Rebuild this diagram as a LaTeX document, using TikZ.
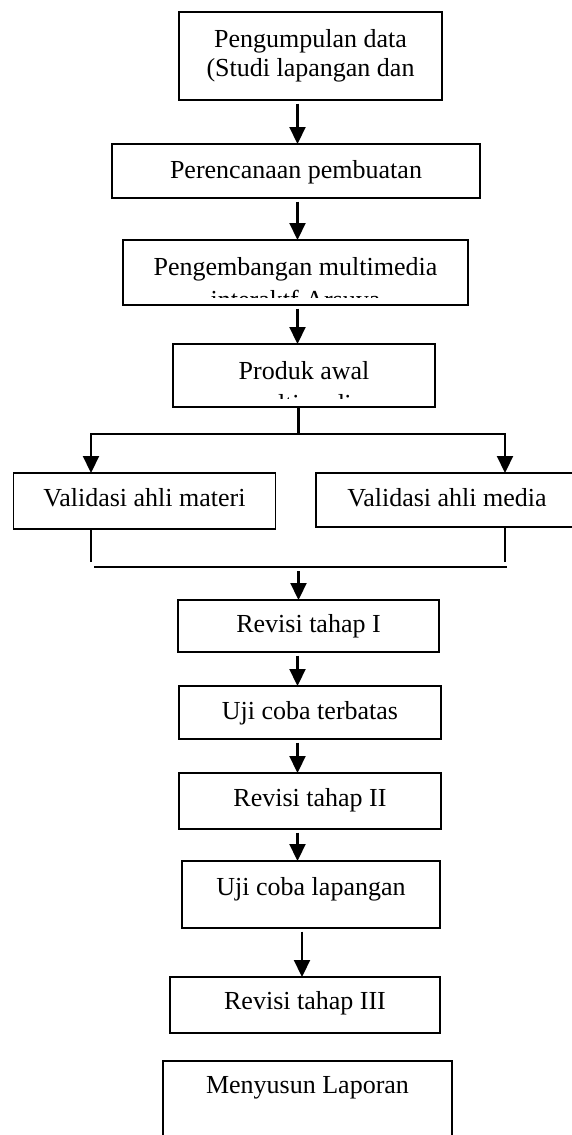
\documentclass[tikz,border=0pt]{standalone}
\usepackage{fontspec}
\setmainfont{Liberation Serif}
\usetikzlibrary{arrows.meta, calc, positioning}
\tikzset{
  >={Triangle[length=8.5pt, width=8pt]},
  every picture/.style={line join=miter, font=\fontsize{13}{15.6}\selectfont},
  stage/.style={draw, line width=0.75pt, inner xsep=0pt, inner ysep=0pt, outer sep=0pt, anchor=north west},
  link/.style={line width=1.1pt},
  drop/.style={link, ->},
  flow/.style={link, ->, shorten <=1.75pt},
}

\begin{document}
\begin{tikzpicture}[x=0.5pt, y=-0.5pt]
  \useasboundingbox (0,0) rectangle (572,1135);
  % ---------- top part: one column of stages
  \node[stage, minimum width=131.5pt, text height=17.5pt, text depth=26.5pt] (pd) at (179,12) {Pengumpulan data};
  \node[anchor=base] (pd2) at (pd.center |- 0,76) {(Studi lapangan dan};
  \node[stage, minimum width=184pt, text height=17pt, text depth=10pt] (rp) at (112,144) {Perencanaan pembuatan};
  \node[stage, minimum width=172.5pt, text height=17.5pt, text depth=15pt] (pm) at (123,240) {Pengembangan multimedia};
  \node[stage, minimum width=131pt, text height=17.5pt, text depth=14pt] (pa) at (173,344) {Produk awal};
  % second lines cut off by the text box
  \begin{scope}
    \clip (pm.north west) rectangle ($(pm.south east)+(0,-8)$);
    \node[anchor=base] (pm2) at (pm.center |- 0,308) {interaktf Arsuya};
  \end{scope}
  \begin{scope}
    \clip (pa.north west) rectangle ($(pa.south east)+(0,-8.5)$);
    \node[anchor=base] (pa2) at (pa.center |- 0,412) {multimedia};
  \end{scope}
  % ---------- validation, side by side
  \node[stage, minimum width=131pt, text height=16.5pt, text depth=11.5pt] (vm) at (13.5,473) {Validasi ahli materi};
  \node[stage, minimum width=131pt, text height=16.5pt, text depth=10.5pt] (vd) at (316,473) {Validasi ahli media};
  % ---------- bottom part
  \node[stage, minimum width=130.5pt, text height=16pt, text depth=10pt] (r1) at (178,600) {Revisi tahap I};
  \node[stage, minimum width=131pt, text height=16.5pt, text depth=10pt] (u1) at (179,686) {Uji coba terbatas};
  \node[stage, minimum width=131pt, text height=16.5pt, text depth=11.5pt] (r2) at (179,773) {Revisi tahap II};
  \node[stage, minimum width=129pt, text height=17pt, text depth=16.5pt] (u2) at (182,861) {Uji coba lapangan};
  \node[stage, minimum width=135pt, text height=16pt, text depth=12pt] (r3) at (170,977) {Revisi tahap III};
  \node[stage, minimum width=144.5pt, text height=16pt, text depth=26pt] (lap) at (163,1061) {Menyusun Laporan};
  % ---------- connectors
  \coordinate (spine) at (297.5,0);
  \coordinate (spineb) at (302,0);
  \coordinate (colL) at (91,0);
  \coordinate (colR) at (505,0);
  \coordinate (split) at (298.5,434);
  \coordinate (barL) at (94,567);
  \coordinate (barR) at (507,567);
  \coordinate (merge) at (298.5,571);
  \draw[flow] (pd.south -| spine) -- (rp.north -| spine);
  \draw[flow] (rp.south -| spine) -- (pm.north -| spine);
  \draw[flow] (pm.south -| spine) -- (pa.north -| spine);
  \draw[link] (pa.south -| split) -- (split);
  \draw[drop] (split) -| (vm.north -| colL);
  \draw[drop] (split) -| (vd.north -| colR);
  \draw[link] (vm.south -| colL) -- (colL |- 0,562);
  \draw[link] (vd.south -| colR) -- (colR |- 0,562);
  \draw[link] (barL) -- (barR);
  \draw[drop] (merge) -- (r1.north -| merge);
  \draw[flow] (r1.south -| spine) -- (u1.north -| spine);
  \draw[flow] (u1.south -| spine) -- (r2.north -| spine);
  \draw[flow] (r2.south -| spine) -- (u2.north -| spine);
  \draw[flow] (u2.south -| spineb) -- (r3.north -| spineb);
\end{tikzpicture}
\end{document}
